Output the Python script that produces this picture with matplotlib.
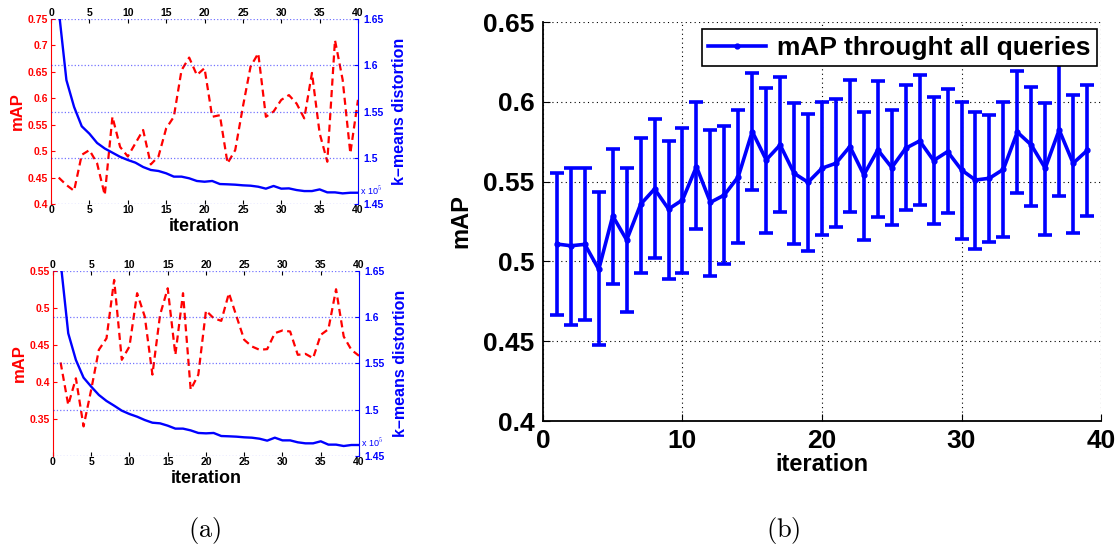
import matplotlib
matplotlib.use("Agg")
import matplotlib.pyplot as plt
from matplotlib.lines import Line2D
import numpy as np

plt.rcParams['mathtext.fontset'] = 'cm'

# ---------------- data ----------------
iters40 = list(range(1, 41))

map_top = [0.450, 0.436, 0.425, 0.493, 0.502, 0.477, 0.417, 0.565, 0.508, 0.490,
           0.515, 0.540, 0.475, 0.490, 0.543, 0.565, 0.653, 0.677, 0.644, 0.657,
           0.565, 0.568, 0.477, 0.502, 0.584, 0.660, 0.685, 0.565, 0.575, 0.597,
           0.606, 0.590, 0.562, 0.648, 0.534, 0.480, 0.710, 0.635, 0.496, 0.597]

dist_top = [1.660, 1.584, 1.555, 1.534, 1.526, 1.516, 1.510, 1.5055, 1.501, 1.4976,
            1.4947, 1.490, 1.4868, 1.4857, 1.4832, 1.4796, 1.4796, 1.4778, 1.4749, 1.4741,
            1.4749, 1.4716, 1.4713, 1.4709, 1.4702, 1.4698, 1.4687, 1.4666, 1.4695, 1.4666,
            1.4669, 1.4651, 1.4640, 1.4640, 1.4658, 1.4626, 1.4626, 1.4615, 1.4622, 1.4622]

map_bot = [0.4264, 0.369, 0.405, 0.340, 0.3896, 0.4435, 0.459, 0.5379, 0.430, 0.448,
           0.520, 0.4884, 0.410, 0.4907, 0.5266, 0.4367, 0.520, 0.3896, 0.410, 0.4965,
           0.4862, 0.4826, 0.520, 0.4884, 0.457, 0.448, 0.4435, 0.4444, 0.466, 0.4696,
           0.4682, 0.4367, 0.438, 0.4322, 0.4637, 0.4713, 0.5253, 0.4615, 0.4435, 0.4354]

dist_bot = [1.660, 1.5826, 1.5538, 1.5347, 1.525, 1.516, 1.5095, 1.5044, 1.499, 1.4954,
            1.4925, 1.4889, 1.486, 1.4853, 1.4828, 1.4796, 1.4796, 1.4777, 1.4749, 1.4745,
            1.4749, 1.4716, 1.4713, 1.4709, 1.4702, 1.4698, 1.4687, 1.4666, 1.4698, 1.4669,
            1.4669, 1.4648, 1.4637, 1.4637, 1.4659, 1.4623, 1.4623, 1.4608, 1.4619, 1.4619]

iters39 = list(range(1, 40))
map_mean = [0.5109, 0.5098, 0.5107, 0.4950, 0.5285, 0.5134, 0.5358, 0.5454, 0.5328, 0.5385,
            0.5594, 0.5370, 0.5416, 0.5531, 0.5814, 0.5636, 0.5730, 0.5552, 0.5496, 0.5584,
            0.5615, 0.5720, 0.5542, 0.5699, 0.5588, 0.5709, 0.5755, 0.5632, 0.5688, 0.5573,
            0.5510, 0.5521, 0.5577, 0.5810, 0.5730, 0.5584, 0.5824, 0.5615, 0.5695]
map_upper = [0.5552, 0.5588, 0.5584, 0.5433, 0.5705, 0.5584, 0.5776, 0.5893, 0.5755, 0.5835,
             0.6002, 0.5826, 0.5851, 0.5946, 0.6182, 0.6086, 0.6153, 0.5992, 0.5923, 0.6002,
             0.6019, 0.6136, 0.5939, 0.6128, 0.5948, 0.6107, 0.6165, 0.6031, 0.6082, 0.5998,
             0.5939, 0.5918, 0.6002, 0.6195, 0.6090, 0.5994, 0.6240, 0.6040, 0.6107]
map_lower = [0.4667, 0.4603, 0.4634, 0.4477, 0.4856, 0.4680, 0.4929, 0.5020, 0.4891, 0.4929,
             0.5203, 0.4908, 0.4985, 0.5117, 0.5448, 0.5180, 0.5312, 0.5110, 0.5064, 0.5165,
             0.5215, 0.5312, 0.5133, 0.5280, 0.5226, 0.5320, 0.5354, 0.5234, 0.5301, 0.5140,
             0.5077, 0.5119, 0.5155, 0.5429, 0.5349, 0.5165, 0.5412, 0.5180, 0.5285]

x_ticks_small = [0, 5, 10, 15, 20, 25, 30, 35, 40]
top_map_ticks = [0.4, 0.45, 0.5, 0.55, 0.6, 0.65, 0.7, 0.75]
bot_map_ticks = [0.35, 0.4, 0.45, 0.5, 0.55]
dist_ticks = [1.45, 1.5, 1.55, 1.6, 1.65]
big_x_ticks = [0, 10, 20, 30, 40]
big_y_ticks = [0.4, 0.45, 0.5, 0.55, 0.6, 0.65]

# ---------------- figure ----------------
fig = plt.figure(figsize=(11.17, 5.52), dpi=100)

SANS = ['Liberation Sans', 'DejaVu Sans']
BLUE = '#0000ff'
RED = '#ff0000'


def fmt(v):
    return ('%.2f' % v).rstrip('0').rstrip('.')


def small_panel(rect, mapv, distv, ylim, yticks):
    ax = fig.add_axes(rect)
    ax2 = ax.twinx()
    ax.plot(iters40, mapv, color=RED, ls='--', lw=1.6, dashes=(3.2, 2))
    ax2.plot(iters40, distv, color=BLUE, lw=1.7)
    ax.set_xlim(0, 40)
    ax.set_ylim(*ylim)
    ax2.set_ylim(1.45, 1.65)
    ax.set_xticks(x_ticks_small)
    ax.set_yticks(yticks)
    ax.set_yticklabels([fmt(v) for v in yticks])
    ax2.set_yticks(dist_ticks)
    ax2.set_yticklabels([fmt(v) for v in dist_ticks])
    for a in (ax, ax2):
        a.spines['top'].set_visible(False)
        a.spines['bottom'].set_visible(False)
    ax.spines['right'].set_visible(False)
    ax.spines['left'].set_color(RED)
    ax2.spines['left'].set_visible(False)
    ax2.spines['right'].set_color(BLUE)
    ax.tick_params(axis='x', top=True, labeltop=True, bottom=True, direction='in',
                   length=3, labelsize=7.5, pad=1, colors='black')
    ax.tick_params(axis='y', colors=RED, direction='in', length=3, labelsize=7.5, pad=2)
    ax2.tick_params(axis='y', colors=BLUE, direction='in', length=3, labelsize=7.5, pad=4)
    for lab in ax.get_xticklabels() + ax.get_yticklabels() + ax2.get_yticklabels():
        lab.set_fontweight('bold')
        lab.set_family(SANS)
    ax2.yaxis.grid(True, color=BLUE, ls=':', lw=0.9, alpha=0.55)
    ax.set_ylabel('mAP', color=RED, fontsize=12, fontweight='bold', family=SANS, labelpad=2)
    ax2.set_ylabel('k\u2013means distortion', color=BLUE, fontsize=11.5, fontweight='bold',
                   family=SANS, labelpad=6)
    ax.set_xlabel('iteration', fontsize=13, fontweight='bold', family=SANS, labelpad=2)
    ax2.text(1.008, 0.04, r'x 10$^5$', transform=ax2.transAxes, color=BLUE,
             fontsize=6.5, va='bottom', ha='left', family=SANS)
    return ax, ax2


small_panel([0.0457, 0.6304, 0.2748, 0.3352], map_top, dist_top, (0.4, 0.75), top_map_ticks)
small_panel([0.0474, 0.1739, 0.2740, 0.3352], map_bot, dist_bot, (0.3, 0.55), bot_map_ticks)

# right panel
axr = fig.add_axes([0.4861, 0.2373, 0.4996, 0.7228])
mean = np.array(map_mean)
yerr = [mean - np.array(map_lower), np.array(map_upper) - mean]
axr.errorbar(iters39, map_mean, yerr=yerr, fmt='-o', color=BLUE, lw=2.6, ms=3.5,
             elinewidth=2.6, capsize=5, capthick=2.6, clip_on=True, zorder=3)
axr.set_xlim(0, 40)
axr.set_ylim(0.4, 0.65)
axr.set_xticks(big_x_ticks)
axr.set_yticks(big_y_ticks)
axr.set_yticklabels([fmt(v) for v in big_y_ticks])
axr.grid(True, color='black', ls=(0, (1, 3)), lw=0.8)
axr.spines['top'].set_visible(False)
axr.spines['right'].set_visible(False)
axr.spines['left'].set_linewidth(1.3)
axr.spines['bottom'].set_linewidth(1.3)
axr.tick_params(direction='in', length=5, labelsize=19, pad=6)
for lab in axr.get_xticklabels() + axr.get_yticklabels():
    lab.set_fontweight('bold')
    lab.set_family(SANS)
axr.set_xlabel('iteration', fontsize=17, fontweight='bold', family=SANS, labelpad=0)
axr.set_ylabel('mAP', fontsize=17, fontweight='bold', family=SANS, labelpad=8)
handle = Line2D([], [], color=BLUE, lw=2.6, marker='o', ms=3.5)
leg = axr.legend([handle], ['mAP throught all queries'], loc='upper right',
                 bbox_to_anchor=(0.993, 0.982), fancybox=False,
                 framealpha=1, edgecolor='black', handlelength=2.2, handletextpad=0.4,
                 borderpad=0.25, borderaxespad=0,
                 prop={'family': SANS, 'weight': 'bold', 'size': 19})
leg.get_frame().set_linewidth(1.2)
leg.set_zorder(5)

fig.text(205 / 1117, 1 - 530 / 552, r'$\mathrm{(a)}$', fontsize=19, ha='center', va='center')
fig.text(783 / 1117, 1 - 530 / 552, r'$\mathrm{(b)}$', fontsize=19, ha='center', va='center')

fig.savefig('out.png', dpi=100)
